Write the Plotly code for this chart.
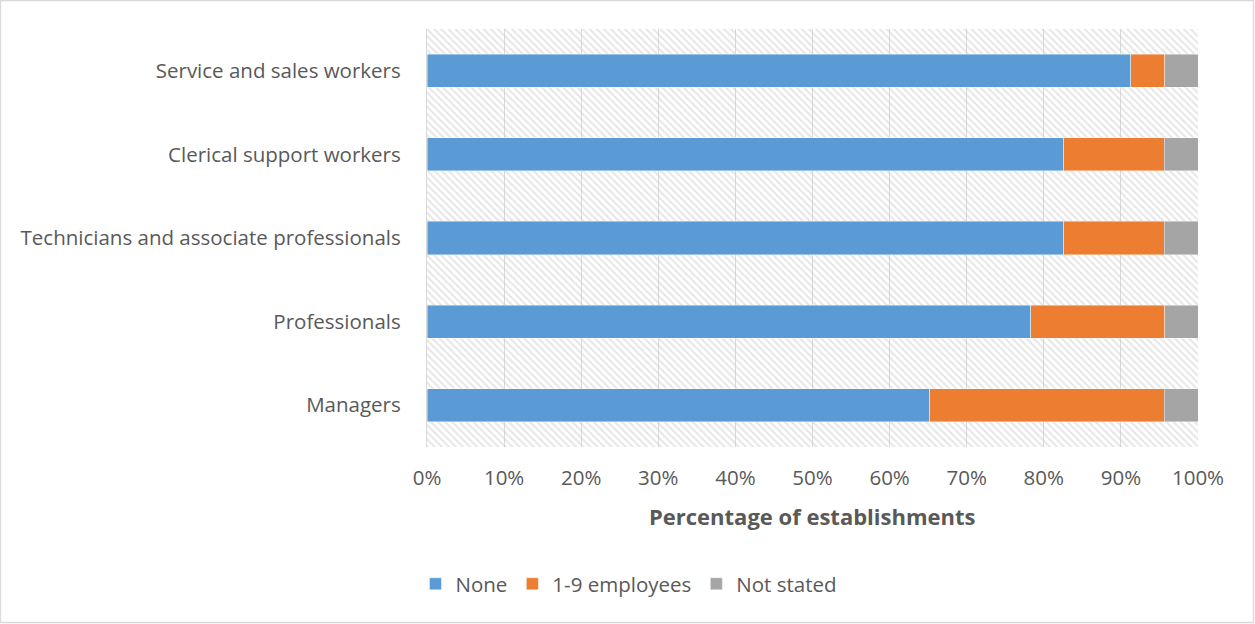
import plotly.graph_objects as go

# Occupational groups, bottom to top
categories = ["Managers", "Professionals", "Technicians and associate professionals",
              "Clerical support workers", "Service and sales workers"]

# Share of establishments (%) by number of employees in each group
none_pct = [65.2, 78.3, 82.6, 82.6, 91.3]
small_pct = [30.4, 17.4, 13.0, 13.0, 4.4]
not_stated_pct = [4.4, 4.3, 4.4, 4.4, 4.3]

series_names = ["None", "1-9 employees", "Not stated"]
series_colors = ["#5B9BD5", "#ED7D31", "#A5A5A5"]

x_ticks = list(range(0, 101, 10))
x_ticktext = [f"{v}%" for v in x_ticks]

W, H = 1255, 624
ML, MR, MT, MB = 427, 57, 29, 177
TEXT = "#595959"
FONT = "'Open Sans', Lato, sans-serif"
FS = 20.5

fig = go.Figure()

n = len(categories)
ypos = list(range(n))

# hatched plot-area background on the base axes (drawn underneath)
fig.add_trace(go.Scatter(
    x=[0, 100, 100, 0, 0], y=[-0.5, -0.5, n - 0.5, n - 0.5, -0.5],
    xaxis="x", yaxis="y",
    mode="lines", line=dict(width=0), fill="toself",
    fillcolor="rgba(0,0,0,0)",
    fillpattern=dict(shape="\\", size=5, solidity=0.4,
                     fgcolor="#cccccc", bgcolor="rgba(255,255,255,0)"),
    hoverinfo="skip", showlegend=False))

# stacked bars on overlaying axes so they sit above the hatch
for name, vals, col in zip(series_names, [none_pct, small_pct, not_stated_pct], series_colors):
    fig.add_trace(go.Bar(
        x=vals, y=ypos, orientation="h", name=name, width=0.395,
        xaxis="x2", yaxis="y2",
        marker=dict(color=col, line=dict(color="rgba(255,255,255,0.6)", width=0.7))))

pw = W - ML - MR
ph = H - MT - MB

fig.update_layout(
    width=W, height=H, barmode="stack",
    margin=dict(l=ML, r=MR, t=MT, b=MB, pad=0),
    paper_bgcolor="white", plot_bgcolor="white",
    font=dict(family=FONT, size=FS, color=TEXT),
    xaxis=dict(range=[0, 100], tickvals=x_ticks, ticktext=x_ticktext,
               showgrid=True, gridcolor="#d9d9d9", gridwidth=1.3,
               zeroline=False, showline=False, ticks="outside", ticklen=12,
               tickcolor="rgba(0,0,0,0)", tickfont=dict(size=FS, color=TEXT)),
    yaxis=dict(range=[-0.5, n - 0.5], tickvals=ypos, ticktext=categories,
               showgrid=False, zeroline=False, showline=True, linecolor="#d9d9d9",
               linewidth=1.3, ticks="outside", ticklen=21,
               tickcolor="rgba(0,0,0,0)", tickfont=dict(size=FS, color=TEXT)),
    xaxis2=dict(range=[0, 100], overlaying="x", showgrid=False, zeroline=False,
                showline=False, showticklabels=False, ticks=""),
    yaxis2=dict(range=[-0.5, n - 0.5], overlaying="y", showgrid=False, zeroline=False,
                showline=False, showticklabels=False, ticks=""),
    legend=dict(orientation="h", x=(629 - ML) / pw, xanchor="center",
                y=(H - MB - 584) / ph, yanchor="middle",
                font=dict(size=FS, color=TEXT), traceorder="normal",
                itemwidth=30, tracegroupgap=0),
    showlegend=True,
    annotations=[dict(text="<b>Percentage of establishments</b>", xref="paper", yref="paper",
                      x=0.5, y=(H - MB - 516) / ph, xanchor="center", yanchor="middle",
                      showarrow=False, font=dict(size=22, color=TEXT))],
    shapes=[dict(type="rect", xref="paper", yref="paper",
                 x0=(0.5 - ML) / pw, x1=(W - 1.5 - ML) / pw,
                 y0=(H - MB - (H - 1.5)) / ph, y1=(H - MB - 0.5) / ph,
                 line=dict(color="#d9d9d9", width=1.3), fillcolor="rgba(0,0,0,0)")],
)

fig.write_html("out.html")
